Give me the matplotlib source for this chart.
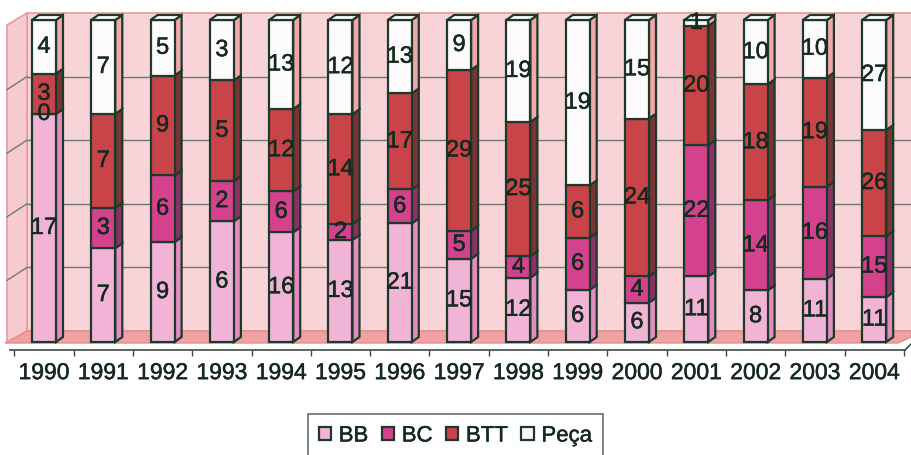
import matplotlib.pyplot as plt
from matplotlib.patches import Polygon, Rectangle, Patch
import matplotlib.patheffects as pe
import numpy as np

# Share of each bike category per year (stacked to 100 %)

years = [str(y) for y in range(1990, 2005)]
bb = [17, 7, 9, 6, 16, 13, 21, 15, 12, 6, 6, 11, 8, 11, 11]
bc = [0, 3, 6, 2, 6, 2, 6, 5, 4, 6, 4, 22, 14, 16, 15]
btt = [3, 7, 9, 5, 12, 14, 17, 29, 25, 6, 24, 20, 18, 19, 26]
peca = [4, 7, 5, 3, 13, 12, 13, 9, 19, 19, 15, 1, 10, 10, 27]
names = ['BB', 'BC', 'BTT', 'Peça']

front = ['#f2b4d6', '#d4428e', '#c84448', '#fdfbfb']
side = ['#e48cc0', '#8e3068', '#7a3434', '#f2a8a8']
edge = '#1b3a2c'
txt = '#142a20'
heavy = [pe.withStroke(linewidth=0.35, foreground=txt)]

W, H = 911, 455
fig = plt.figure(figsize=(W / 100, H / 100), dpi=100)
fig.patch.set_facecolor('white')
ax = fig.add_axes([0, 105 / H, 1, 350 / H])

# pixel helpers for the 3d frame
x0, sx = 44, 59.3      # px of first bar, px per bar
y0, sy = 342, 3.22     # px of 0 %, px per %
def px(x):
    return (x - x0) / sx
def py(y):
    return (y0 - y) / sy

ax.set_xlim(px(0), px(W))
ax.set_ylim(py(350), py(0))

# walls and floor
back_l, back_r = px(27), px(W + 5)
ax.add_patch(Polygon([(back_l, py(331)), (back_l, py(13)), (back_r, py(13)), (back_r, py(331))],
                     closed=True, fc='#f8d4d8', ec='#e89a9a', lw=1.2, zorder=0))
ax.add_patch(Polygon([(px(7), py(343)), (px(7), py(25)), (back_l, py(13)), (back_l, py(331))],
                     closed=True, fc='#f5cad0', ec='#e89a9a', lw=1.2, zorder=0))
for g in [20, 40, 60, 80]:
    yb = py(331 - g * 3.18)
    ax.plot([back_l, back_r], [yb, yb], color='#6b7b70', lw=1, zorder=1)
    ax.plot([px(7), back_l], [yb - 13 / sy, yb], color='#6b7b70', lw=1, zorder=1)
ax.add_patch(Polygon([(px(5), py(343)), (back_l, py(331)), (px(W), py(331)), (px(W), py(337)),
                      (px(898), py(343))],
                     closed=True, fc='#f0a2a2', ec='#e58c8c', lw=1, zorder=1))

# stacked 3d bars
data = np.array([bb, bc, btt, peca], dtype=float)
pct = data / data.sum(axis=0) * 100
w = 24 / sx
dx, dy = 7 / sx, 5 / sy
for i in range(len(years)):
    bottom = 0
    for k in range(4):
        h = pct[k, i]
        l, r = i - w / 2, i + w / 2
        ax.add_patch(Polygon([(r, bottom), (r + dx, bottom + dy), (r + dx, bottom + h + dy), (r, bottom + h)],
                             closed=True, fc=side[k], ec=edge, lw=1.6, zorder=3))
        ax.add_patch(Rectangle((l, bottom), w, h, fc=front[k], ec=edge, lw=1.6, zorder=4))
        ax.text(i, bottom + h / 2, str(int(data[k, i])), ha='center', va='center',
                fontsize=17, color=txt, family='Liberation Sans', zorder=6, path_effects=heavy)
        bottom += h
    ax.add_patch(Polygon([(l, bottom), (l + dx, bottom + dy), (r + dx, bottom + dy), (r, bottom)],
                         closed=True, fc='white', ec=edge, lw=1.6, zorder=4))

# category axis
for s in ['top', 'left', 'right']:
    ax.spines[s].set_visible(False)
ax.spines['bottom'].set_bounds(px(10), px(905))
ax.spines['bottom'].set_color('#3c4a42')
ax.spines['bottom'].set_linewidth(1.2)
ax.plot([px(905), px(W)], [py(350), py(344)], color='#3c4a42', lw=1.2, clip_on=False)
ax.set_xticks(range(len(years)))
ax.set_xticklabels(years, fontsize=16.5, color=txt, family='Liberation Sans')
for t in ax.get_xticklabels():
    t.set_path_effects(heavy)
ax.set_xticks(np.arange(len(years) + 1) - 0.5, minor=True)
ax.tick_params(axis='x', which='major', length=0, pad=8)
ax.tick_params(axis='x', which='minor', length=4, width=1, color='#3c4a42')
ax.set_yticks([])

handles = [Patch(fc=front[k], ec=edge, lw=1.6) for k in range(4)]
leg = fig.legend(handles, names, loc='center', bbox_to_anchor=(0.5, 1 - 436 / H), ncol=4,
                 prop={'family': 'Liberation Sans', 'size': 16},
                 frameon=True, fancybox=False, edgecolor='#3c4a42', handlelength=0.55, handleheight=0.55,
                 handletextpad=0.35, columnspacing=0.6, borderpad=0.5)
leg.get_frame().set_linewidth(1.2)
for t in leg.get_texts():
    t.set_color(txt)
    t.set_path_effects(heavy)

fig.savefig('out.png', dpi=100, facecolor='white')
